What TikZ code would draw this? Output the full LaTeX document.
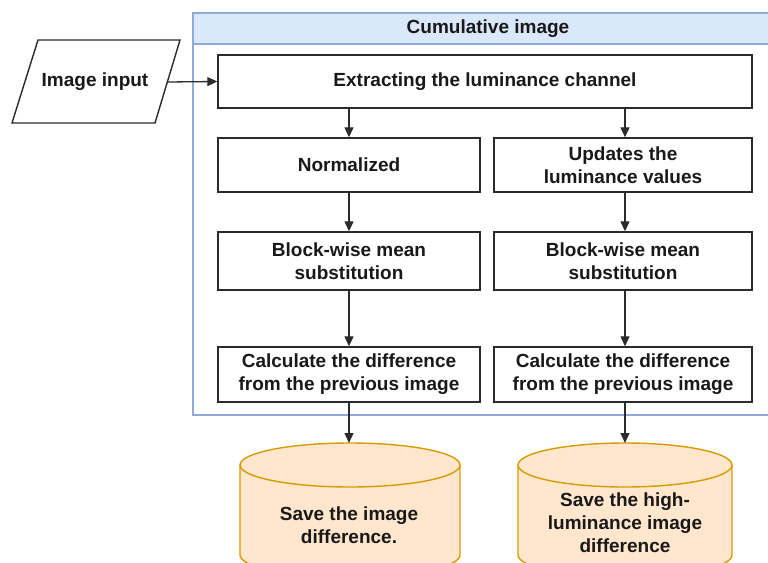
\documentclass[tikz,border=0pt]{standalone}
\usepackage{fontspec}
\setmainfont{Liberation Sans}
\usetikzlibrary{arrows.meta}
\definecolor{contline}{HTML}{8FAADC}
\definecolor{headfill}{HTML}{DAE8FC}
\definecolor{cylfill}{HTML}{FFE6CC}
\definecolor{cylline}{HTML}{D79B00}
\definecolor{boxline}{HTML}{2B2B2B}
\begin{document}
\begin{tikzpicture}[x=1pt,y=-1pt,
  every node/.style={font=\fontsize{19}{23}\selectfont\bfseries, text=black!90, align=center, inner sep=0pt},
  procbox/.style={draw=boxline, line width=1.4pt, fill=white, minimum height=#1},
  procbox/.default=54,
  arr/.style={draw=boxline, line width=1.3pt, -{Triangle[length=10pt,width=9pt]}},
  cyl/.style={draw=cylline, fill=cylfill, line width=1.4pt}
]
\useasboundingbox (0,0) rectangle (768,562);
\clip (0,0) rectangle (768,562);
% container
\draw[contline, line width=1.2pt, fill=headfill] (193,13) rectangle (785,44);
\draw[contline, line width=1.2pt] (193,44) rectangle (785,415);
\node (title) at (488,29) {Cumulative image};
% input parallelogram
\draw[boxline, line width=1.4pt, fill=white] (38,40) -- (180,40) -- (155,123) -- (12,123) -- cycle;
\node (input) at (95,82) {Image input};
\coordinate (inright) at (167,82);
% boxes
\node[procbox=53, minimum width=534] (extract) at (485,81.5) {Extracting the luminance channel};
\node[procbox, minimum width=262] (norm) at (349,165) {Normalized};
\node[procbox, minimum width=258] (upd) at (623,165) {Updates the\\luminance values};
\node[procbox=58, minimum width=262] (blk1) at (349,261) {Block-wise mean\\substitution};
\node[procbox=58, minimum width=258] (blk2) at (623,261) {Block-wise mean\\substitution};
\node[procbox=55, minimum width=262] (calc1) at (349,374.5) {Calculate the difference\\from the previous image};
\node[procbox=55, minimum width=258] (calc2) at (623,374.5) {Calculate the difference\\from the previous image};
% cylinders
\draw[cyl] (240,465) -- (240,555) arc[start angle=180, end angle=0, x radius=110, y radius=22] -- (460,465) arc[start angle=0, end angle=-180, x radius=110, y radius=22] -- cycle;
\draw[cyl] (240,465) arc[start angle=180, end angle=0, x radius=110, y radius=22];
\draw[cyl] (518,465) -- (518,555) arc[start angle=180, end angle=0, x radius=107, y radius=22] -- (732,465) arc[start angle=0, end angle=-180, x radius=107, y radius=22] -- cycle;
\draw[cyl] (518,465) arc[start angle=180, end angle=0, x radius=107, y radius=22];
\coordinate (cyl1top) at (350,443);
\coordinate (cyl2top) at (625,443);
\node (save1) at (349,525) {Save the image\\difference.};
\node (save2) at (625,523) {Save the high-\\luminance image\\difference};
% connectors
\draw[arr] (inright) -- (extract.west);
\draw[arr] (norm.north |- extract.south) -- (norm.north);
\draw[arr] ([xshift=2pt]upd.north |- extract.south) -- ([xshift=2pt]upd.north);
\draw[arr] (norm) -- (blk1);
\draw[arr] ([xshift=2pt]upd.south) -- ([xshift=2pt]blk2.north);
\draw[arr] (blk1) -- (calc1);
\draw[arr] ([xshift=2pt]blk2.south) -- ([xshift=2pt]calc2.north);
\draw[arr] (calc1.south) -- (calc1.south |- cyl1top);
\draw[arr] ([xshift=2pt]calc2.south) -- (cyl2top);
\end{tikzpicture}
\end{document}
